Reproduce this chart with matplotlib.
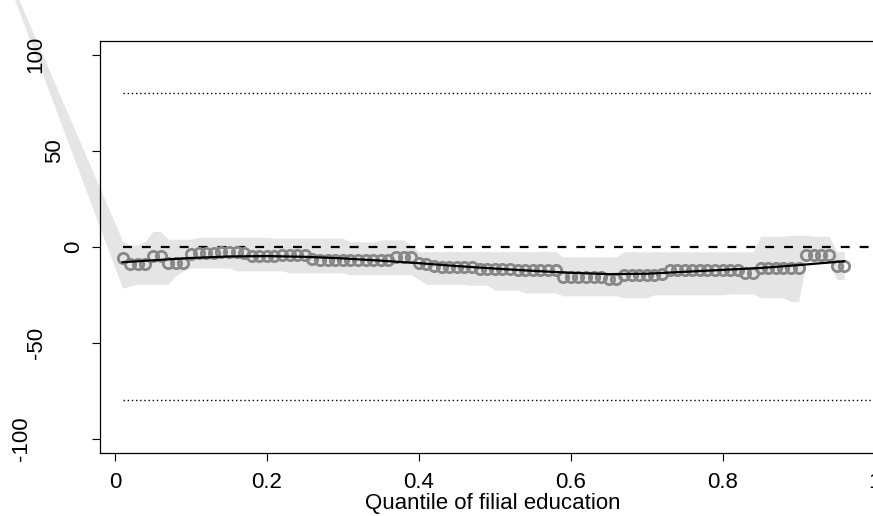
import numpy as np
import matplotlib.pyplot as plt
from matplotlib.transforms import blended_transform_factory

# quantile grid of the estimates
quantiles = np.arange(1, 97) / 100

# point estimates (open circles)
estimates = ([-6] + [-9] * 3 + [-5] * 2 + [-8.5] * 3
             + [-3.5, -3.3, -3.3, -3, -2.8, -2.6, -2.6, -3]
             + [-5] * 4 + [-4, -4, -4.2, -4.5]
             + [-6.5, -6.8] + [-7] * 9 + [-5.5] * 3 + [-8.5, -9]
             + [-10, -10.3, -10.3, -10.3, -10.3, -10.5]
             + [-11.5] * 5 + [-12.3] * 6 + [-15.5] * 6 + [-16.5] * 2
             + [-14.6] * 5 + [-14] + [-12] * 10 + [-13.6] * 2
             + [-11] * 6 + [-4] * 4 + [-10] * 2)

# confidence band, first point is the stray one off to the upper left
band_tip_q = -0.154
band_tip_upper = 154
band_tip_lower = 152
band_upper = ([3, 1, 1, 3, 8, 8, 4, 4, 4, 4] + [5] * 10 + [4.5] * 10
              + [2.6] * 4 + [3.6] * 4 + [1, -2.5] + [-2.5] * 18
              + [-5.2] * 8 + [-2.6] * 18
              + [5.5, 5.5, 5.5, 5.5, 6, 6, 6, 5.5, 5.5, 5.5] + [-2.4] * 2)
band_lower = ([-21.5, -20.5] + [-19.5] * 5 + [-15, -12.5] + [-11] * 6
              + [-12.5] * 7 + [-13.5] * 8 + [-14.5] * 9 + [-17]
              + [-19.5] * 6 + [-20] * 3 + [-22.5] * 4 + [-24] * 5
              + [-25.5] * 8 + [-26.5] * 4 + [-25] * 10 + [-24.5] * 4
              + [-26.5] * 4 + [-28.5] * 2 + [-7.5] * 4 + [-17] * 2)

# smoothed fit (black line)
smooth_q = [0.01, 0.05, 0.10, 0.15, 0.20, 0.25, 0.30, 0.35, 0.40, 0.45,
            0.50, 0.55, 0.60, 0.65, 0.70, 0.75, 0.80, 0.85, 0.90, 0.96]
smooth_val = [-8, -7, -5.8, -5, -4.8, -5.2, -6, -7.2, -8.5, -10,
              -11.3, -12.5, -13.5, -14.2, -14, -13, -12, -11, -9.5, -7.5]

ref_level = 0
bound_level = 80

xticks = [0, 0.2, 0.4, 0.6, 0.8, 1]
xticklabels = ["0", "0.2", "0.4", "0.6", "0.8", "1"]
yticks = [100, 50, 0, -50, -100]
yticklabels = ["100", "50", "0", "-50", "-100"]
# horizontal centre (pixels) of each rotated y label, as drawn in the source
ylabel_px = [36, 55, 73.5, 36.5, 21]

plt.rcParams['font.family'] = ['Liberation Sans', 'DejaVu Sans']

W, H = 873, 516
fig = plt.figure(figsize=(W / 100, H / 100), dpi=100)
ax = fig.add_axes([100 / W, 1 - 452.7 / H, 786 / W, 411.7 / H])

bq = np.concatenate([[band_tip_q], quantiles])
bu = np.concatenate([[band_tip_upper], band_upper])
bl = np.concatenate([[band_tip_lower], band_lower])
ax.fill_between(bq, bl, bu, color='#e5e5e5', lw=0, clip_on=False, zorder=1)

ax.plot([0.01, 1.02], [ref_level, ref_level], color='black', lw=1.6,
        dashes=(4, 4.5), zorder=2)
for lev in [bound_level, -bound_level]:
    ax.plot([0.01, 1.02], [lev, lev], color='black', lw=1.0,
            dashes=(1, 2), zorder=2)

ax.plot(quantiles, estimates, 'o', mfc='none', mec='#878787', ms=7.4,
        mew=2.0, zorder=3)
ax.plot(smooth_q, smooth_val, color='black', lw=1.6, zorder=4)

ax.set_xlim(-0.0197, 1.015)
ax.set_ylim(-107.2, 107.2)

ax.set_xticks(xticks)
ax.set_xticklabels(xticklabels, fontsize=16)
ax.set_yticks(yticks)
ax.set_yticklabels([])
ax.tick_params(direction='out', length=5.8, width=0.8, pad=8)

tr = blended_transform_factory(fig.transFigure, ax.transData)
for lab, yv, xp in zip(yticklabels, yticks, ylabel_px):
    ax.text(xp / W, yv, lab, rotation=90, ha='center', va='center',
            fontsize=16, transform=tr, clip_on=False, zorder=5)

for s in ax.spines.values():
    s.set_linewidth(0.9)

ax.set_xlabel("Quantile of filial education", fontsize=16, labelpad=0)

fig.savefig("out.png", dpi=100)
